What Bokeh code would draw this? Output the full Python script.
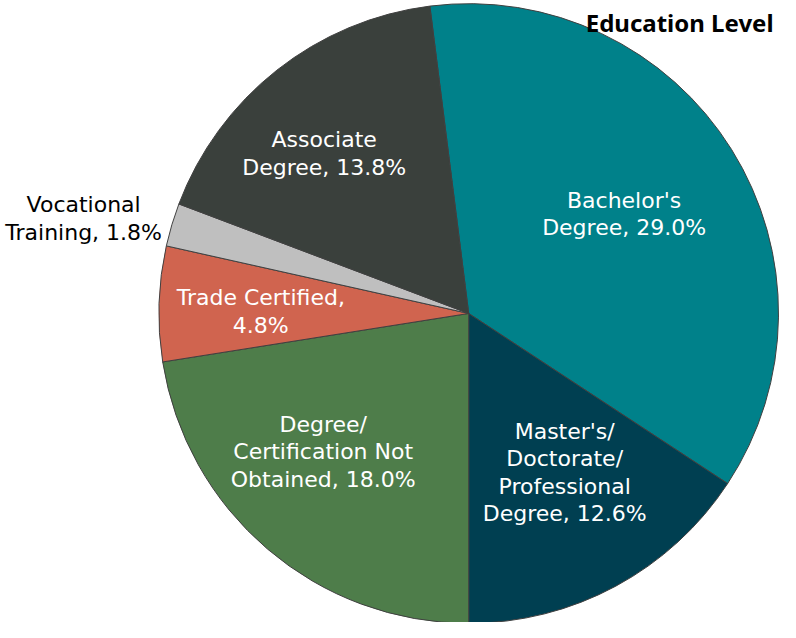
import math
from bokeh.plotting import figure
from bokeh.models import Range1d, ColumnDataSource
from bokeh.core.properties import value
from bokeh.embed import file_html
from bokeh.resources import INLINE

# ---- data ----
categories = ["Bachelor's Degree", "Master's/ Doctorate/ Professional Degree",
              "Degree/ Certification Not Obtained", "Trade Certified",
              "Vocational Training", "Associate Degree"]
values = [29.0, 12.6, 18.0, 4.8, 1.8, 13.8]
label_texts = ["Bachelor's\nDegree, 29.0%",
               "Master's/\nDoctorate/\nProfessional\nDegree, 12.6%",
               "Degree/\nCertification Not\nObtained, 18.0%",
               "Trade Certified,\n4.8%",
               "Vocational\nTraining, 1.8%",
               "Associate\nDegree, 13.8%"]
colors = ["#00818A", "#003F51", "#4E7D4A", "#D0644F", "#BFBFBF", "#3A403C"]
label_colors = ["white", "white", "white", "white", "black", "white"]
title = "Education Level"

# ---- layout (pixel coordinates; y negated) ----
W, H = 780, 622
cx, cy, R = 477, 321, 313
first_angle_deg = -7.2  # clockwise from 12 o'clock

label_pos = [(634, 220), (574, 482), (330, 461), (267, 319), (88, 225), (331, 159)]

total = sum(values)
starts, ends = [], []
cum = first_angle_deg
for v in values:
    a0 = cum
    a1 = cum + v / total * 360.0
    starts.append(math.radians(90 - a0))
    ends.append(math.radians(90 - a1))
    cum = a1

p = figure(width=W, height=H, output_backend="svg", toolbar_location=None,
           x_range=Range1d(4, 4 + 788), y_range=Range1d(-(4 + 630), -4),
           min_border=0)
p.axis.visible = False
p.grid.visible = False
p.outline_line_color = None
p.background_fill_color = "white"
p.border_fill_color = "white"

src = ColumnDataSource(dict(start=starts, end=ends, color=colors))
p.wedge(x=cx, y=-cy, radius=R, start_angle="start", end_angle="end",
        direction="clock", fill_color="color", line_color="#404040",
        line_width=1, source=src)

lsrc = ColumnDataSource(dict(x=[lp[0] for lp in label_pos],
                             y=[-lp[1] for lp in label_pos],
                             text=label_texts, color=label_colors))
p.text(x="x", y="y", text="text", text_color="color", source=lsrc,
       text_align="center", text_baseline="middle",
       text_font=value("DejaVu Sans"), text_font_size="22px",
       text_line_height=1.1)

p.text(x=[785], y=[-26], text=[title], text_align="right", text_baseline="alphabetic",
       text_font=value("Noto Sans"), text_font_style="bold", text_font_size="24px",
       text_color="black")

open("out.html", "w").write(file_html(p, INLINE))
